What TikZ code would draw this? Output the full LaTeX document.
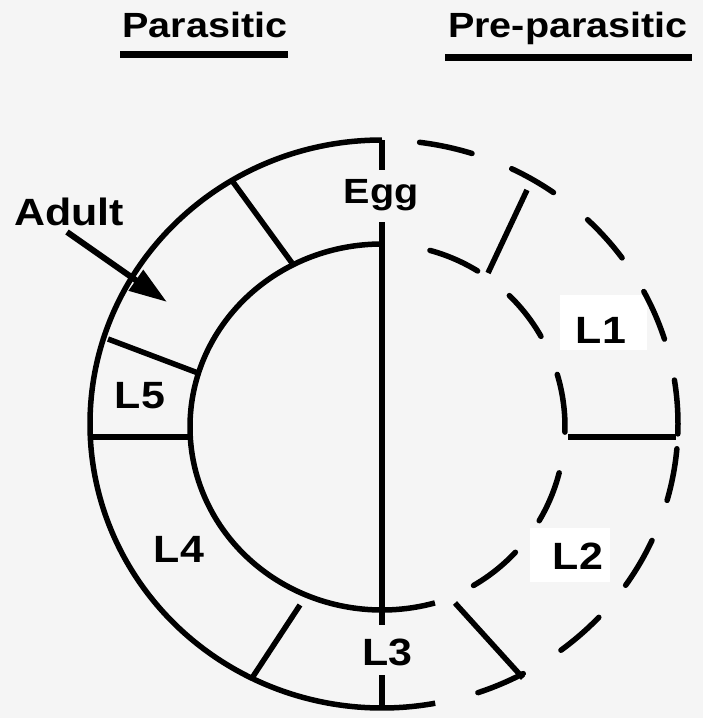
\documentclass[tikz,border=0pt]{standalone}
\usepackage{fontspec}
\setmainfont{Liberation Sans}
\usetikzlibrary{arrows.meta}
\newcommand{\wide}[1]{\scalebox{1.13}[1]{#1}}
\begin{document}
\begin{tikzpicture}[x=1pt,y=-1pt,
  ring/.style={line width=5.5pt},
  dashseg/.style={line width=5.5pt, line cap=round},
  divider/.style={line width=5.5pt},
  bar/.style={line width=7pt},
  lbl/.style={font=\fontsize{38}{40}\selectfont\bfseries, inner sep=0pt, anchor=base},
  ttl/.style={font=\fontsize{35}{38}\selectfont\bfseries, inner sep=0pt, anchor=base}]
\fill[black!4] (0,0) rectangle (703,718);
\useasboundingbox (0,0) rectangle (703,718);
\coordinate (Co) at (382,424);
\coordinate (Ci) at (382,427);
% white patches behind L1 and L2
\fill[white] (560,295) rectangle (647,350);
\fill[white] (530,528) rectangle (610,582);
% titles
\node[ttl] (parasitic) at (205,37) {\wide{Parasitic}};
\node[ttl] (preparasitic) at (568,37) {\wide{Pre-parasitic}};
\draw[bar] (120,54) -- (288,54);
\draw[bar] (445,57) -- (692,57);
% solid left arcs
\draw[ring] (Co) ++(-90:292 and 284) arc[start angle=-90, end angle=-280.5, x radius=292, y radius=284];
\draw[ring] (Ci) ++(-90:192 and 183) arc[start angle=-90, end angle=-286, x radius=192, y radius=183];
% dashed outer right arc
\foreach \a/\b in {-82.7/-72.3, -64/-54.6, -46/-35.8, -27.8/-17.4, -8.9/2, 5/15.6, 24.2/34.6, 42.9/52.8, 61.5/71.1}
  \draw[dashseg] (Co) ++(\a:296 and 284) arc[start angle=\a, end angle=\b, x radius=296, y radius=284];
% dashed inner right arc
\foreach \a/\b in {-74.8/-58.5, -45.9/-29.7, -16.7/1.6, 14.5/30.8, 43.2/60}
  \draw[dashseg] (Ci) ++(\a:183 and 183) arc[start angle=\a, end angle=\b, x radius=183, y radius=183];
% vertical line
\coordinate (vtop) at (382,140);
\coordinate (vegg) at (382,170);
\coordinate (vmid1) at (382,222);
\coordinate (vmid2) at (382,625);
\coordinate (vl3) at (382,675);
\coordinate (vbot) at (382,708);
\draw[divider] (vtop) -- (vegg);
\draw[divider] (vmid1) -- (vmid2);
\draw[divider] (vl3) -- (vbot);
% left dividers
\draw[divider] (233,182) -- (292,263);
\draw[divider] (108,339) -- (198,373);
\draw[divider] (89,437) -- (191,437);
\draw[divider] (252,678) -- (300,605);
% right dividers
\draw[divider] (527,190) -- (488,273);
\draw[divider] (568,437) -- (676,437);
\draw[divider] (455,603) -- (523,678);
% labels
\node[lbl, font=\fontsize{35}{38}\selectfont\bfseries] (egg) at (381,203) {\wide{Egg}};
\node[lbl] (adult) at (69,225) {\wide{Adult}};
\node[lbl] (l1) at (601,343) {\wide{L1}};
\node[lbl] (l2) at (578,569) {\wide{L2}};
\node[lbl] (l3) at (387.5,665) {\wide{L3}};
\node[lbl] (l4) at (179,562) {\wide{L4}};
\node[lbl] (l5) at (140,408) {\wide{L5}};
% arrow
\coordinate (atail) at (67,232);
\coordinate (ahead) at (167,302);
\draw[line width=6pt, -{Triangle[length=38pt,width=24pt]}] (atail) -- (ahead);
\end{tikzpicture}
\end{document}
